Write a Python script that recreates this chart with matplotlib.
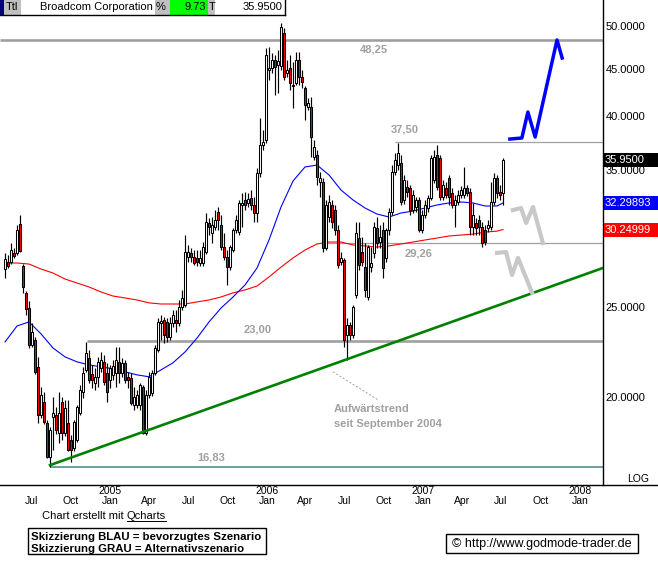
import numpy as np
import pandas as pd
import matplotlib
matplotlib.use('Agg')
import matplotlib.pyplot as plt
import matplotlib.dates as mdates
from matplotlib.patches import Rectangle
from matplotlib.lines import Line2D
from matplotlib.ticker import FixedLocator, NullLocator, FixedFormatter
from matplotlib.transforms import blended_transform_factory

plt.rcParams['font.family'] = ['Liberation Sans', 'DejaVu Sans']

W, H = 658, 563

# weekly candles, Broadcom, from week of 2004-04-26
opens = [27.44, 27.92, 27.92, 28.55, 28.55, 30.67, 27.64, 25.87, 24.92, 22.75,
         23.03, 21.55, 19.15, 19.77, 18.78, 17.27, 19.06, 19.15, 18.32, 19.77,
         18.32, 18.78, 18.01, 17.66, 18.01, 19.25, 20.26, 21.39, 22.04, 21.18,
         20.72, 21.03, 21.50, 21.82, 21.24, 20.87, 21.13, 21.24, 21.82, 21.24,
         21.77, 21.03, 20.98, 19.63, 19.63, 19.63, 20.51, 18.32, 20.12, 20.22,
         21.24, 22.47, 24.02, 24.20, 24.08, 23.20, 24.02, 24.20, 24.02, 24.99,
         25.11, 28.27, 28.55, 28.27, 28.20, 27.85, 27.85, 28.62, 30.74, 29.99,
         30.44, 31.58, 30.59, 28.97, 28.27, 27.57, 28.76, 30.21, 30.06, 32.14,
         32.54, 32.30, 32.70, 32.14, 31.51, 34.78, 37.27, 37.73, 44.85, 45.07,
         45.97, 45.41, 45.30, 49.14, 44.52, 45.07, 43.11, 43.43, 45.97, 44.08,
         42.90, 40.93, 40.93, 36.18, 36.36, 34.01, 34.01, 28.90, 31.20, 32.14,
         31.74, 30.21, 27.92, 28.06, 23.32, 23.90, 23.32, 25.74, 29.62, 28.62,
         27.57, 25.61, 27.57, 28.55, 30.36, 29.33, 30.21, 28.20, 30.21, 31.58,
         34.87, 35.47, 35.65, 32.54, 33.60, 33.51, 31.74, 31.98, 32.54, 30.21,
         31.35, 31.90, 32.70, 34.18, 36.36, 36.09, 32.78, 33.51, 34.35, 33.10,
         32.14, 32.38, 32.94, 32.94, 33.51, 33.18, 30.44, 30.74, 30.97, 30.44,
         30.21, 30.36, 30.44, 32.38, 34.35, 33.18, 33.10]
highs = [28.55, 28.41, 29.26, 28.90, 30.59, 31.35, 27.78, 26.00, 25.36, 24.02,
         23.20, 22.09, 20.51, 20.26, 18.92, 18.60, 20.02, 19.53, 20.26, 20.02,
         19.87, 19.87, 18.23, 18.92, 19.63, 20.62, 21.55, 22.92, 22.47, 21.66,
         21.50, 22.09, 22.36, 22.20, 21.77, 21.66, 21.93, 22.64, 22.64, 22.04,
         21.93, 21.29, 21.24, 20.51, 20.36, 20.72, 20.62, 20.36, 21.29, 21.39,
         22.75, 24.32, 24.50, 24.38, 24.32, 24.38, 24.80, 24.80, 25.42, 26.06,
         29.84, 29.12, 28.90, 28.76, 28.76, 28.76, 29.33, 31.51, 31.12, 31.20,
         31.74, 31.98, 31.35, 29.99, 28.76, 29.12, 30.36, 31.35, 32.54, 33.10,
         33.18, 33.10, 33.35, 32.78, 35.21, 39.84, 38.67, 47.36, 47.47, 46.77,
         46.54, 47.12, 50.37, 49.75, 45.97, 46.54, 45.74, 46.89, 46.89, 44.85,
         43.11, 41.85, 41.95, 37.73, 36.81, 34.87, 34.35, 32.54, 32.94, 32.54,
         32.14, 30.59, 28.62, 28.20, 24.32, 24.08, 25.11, 30.82, 30.82, 29.69,
         29.26, 29.12, 28.97, 30.82, 31.20, 30.59, 30.82, 30.36, 31.90, 35.47,
         36.54, 37.45, 36.36, 34.61, 34.18, 33.76, 33.35, 32.78, 32.78, 31.74,
         32.54, 32.94, 36.36, 36.81, 37.27, 36.36, 34.18, 34.01, 34.61, 33.51,
         32.94, 33.35, 33.68, 35.30, 33.76, 33.51, 32.30, 31.12, 31.35, 30.82,
         30.59, 30.97, 34.01, 34.78, 34.61, 33.76, 36.09]
lows = [26.84, 27.51, 27.78, 28.20, 28.41, 28.62, 25.87, 24.50, 22.58, 22.64,
        21.18, 18.78, 19.01, 18.73, 17.19, 16.83, 17.57, 18.28, 17.88, 18.01,
        18.19, 17.49, 17.06, 17.49, 17.92, 19.15, 19.97, 21.29, 20.72, 20.46,
        20.36, 20.51, 21.29, 20.62, 19.77, 20.46, 20.87, 20.51, 20.72, 21.03,
        20.72, 20.46, 19.63, 19.39, 19.49, 19.39, 18.28, 18.23, 19.97, 20.07,
        21.13, 22.36, 23.03, 22.86, 22.92, 23.03, 23.78, 23.49, 23.84, 24.80,
        24.99, 27.92, 27.92, 27.71, 27.64, 27.64, 27.64, 28.48, 29.84, 29.26,
        30.21, 30.21, 28.76, 28.06, 26.38, 27.37, 28.62, 29.99, 29.84, 30.44,
        31.74, 31.98, 31.74, 30.82, 30.82, 34.44, 36.81, 37.45, 43.75, 44.52,
        42.16, 42.37, 44.85, 43.75, 44.08, 42.69, 40.83, 43.22, 43.22, 42.90,
        39.64, 40.63, 36.18, 35.91, 33.76, 32.78, 28.62, 28.76, 30.82, 30.36,
        29.84, 27.51, 27.71, 22.64, 21.93, 23.03, 23.14, 25.55, 27.37, 27.64,
        25.61, 25.42, 27.24, 28.20, 28.90, 28.90, 26.84, 27.92, 29.84, 31.35,
        34.61, 35.04, 32.14, 32.22, 32.78, 31.35, 31.51, 31.58, 30.06, 29.99,
        31.12, 31.58, 32.54, 33.93, 33.35, 32.54, 32.54, 32.70, 32.14, 31.90,
        30.44, 32.14, 32.70, 32.70, 32.86, 29.84, 29.84, 29.84, 29.84, 28.97,
        29.12, 30.06, 30.21, 32.14, 32.70, 32.54, 32.14]
closes = [28.13, 27.64, 28.76, 28.34, 30.21, 28.69, 26.25, 24.86, 22.75, 23.49,
          21.29, 19.15, 20.12, 18.83, 17.27, 18.46, 19.25, 18.46, 19.25, 18.32,
          19.49, 17.57, 17.57, 18.83, 19.53, 20.36, 21.24, 22.31, 20.87, 20.87,
          21.03, 21.82, 21.93, 20.77, 20.26, 21.50, 21.61, 21.93, 21.24, 21.77,
          20.87, 20.87, 19.73, 20.02, 20.12, 20.62, 18.32, 20.12, 21.03, 21.24,
          22.58, 24.08, 24.14, 23.32, 23.20, 24.02, 24.50, 24.02, 24.99, 25.55,
          28.62, 28.62, 28.27, 27.85, 27.92, 28.20, 28.97, 30.82, 30.44, 30.59,
          30.97, 30.97, 28.97, 28.27, 27.57, 28.97, 30.21, 30.97, 32.30, 32.30,
          32.14, 32.62, 32.14, 31.51, 34.78, 37.27, 37.55, 46.54, 45.07, 45.97,
          45.18, 45.86, 49.88, 44.08, 44.85, 43.43, 43.22, 45.97, 44.08, 43.54,
          41.13, 41.33, 38.01, 37.08, 34.44, 34.35, 28.90, 32.14, 32.38, 30.82,
          30.21, 27.71, 28.20, 23.03, 23.90, 23.32, 24.99, 29.99, 27.71, 27.92,
          26.06, 28.97, 27.85, 30.44, 29.26, 29.69, 27.51, 30.21, 31.58, 34.87,
          35.91, 36.54, 32.38, 34.18, 33.18, 31.74, 32.94, 32.54, 30.21, 31.35,
          32.14, 32.70, 36.09, 36.18, 33.60, 32.78, 33.76, 32.94, 32.78, 32.14,
          32.54, 32.94, 33.35, 33.51, 33.10, 30.44, 31.35, 30.36, 30.44, 29.26,
          29.33, 30.59, 32.38, 34.35, 33.10, 32.94, 35.95]

# moving averages read every 4th week (plus the last week)
ma_idx = list(range(0, 165, 4)) + [166]
blue_ma = [22.92, 23.84, 24.08, 23.38, 22.58, 22.09, 21.82, 21.66, 21.55, 21.45,
           21.29, 21.13, 21.03, 21.39, 21.77, 22.36, 23.14, 24.08, 24.92, 25.61,
           26.38, 27.51, 29.48, 31.98, 34.10, 35.30, 35.47, 34.61, 33.35, 32.54,
           31.90, 31.43, 31.20, 31.51, 31.66, 31.90, 32.14, 32.30, 32.38, 32.30,
           32.06, 32.06, 32.30]
red_ma = [27.85, 27.85, 27.78, 27.44, 27.17, 26.77, 26.51, 26.25, 25.93, 25.67,
          25.55, 25.42, 25.24, 25.17, 25.17, 25.17, 25.30, 25.42, 25.61, 25.87,
          26.06, 26.31, 26.91, 27.57, 28.20, 28.76, 29.19, 29.33, 29.33, 29.12,
          29.05, 28.97, 29.05, 29.19, 29.33, 29.48, 29.62, 29.77, 29.84, 29.91,
          30.06, 30.13, 30.25]

# horizontal levels
levels = [48.25, 37.50, 29.26, 23.00, 16.83]
level_start = ['2004-04-14', '2006-10-23', '2006-05-08', '2004-11-03', '2004-08-09']
level_text = ['48,25', '37,50', '29,26', '23,00', '16,83']

# trend line
trend_dates = ['2004-08-09', '2008-02-20']
trend_vals = [16.91, 27.51]

# scenario sketches
blue_dates = ['2007-07-18', '2007-08-15', '2007-08-29', '2007-09-15', '2007-11-05', '2007-11-17']
blue_vals = [37.82, 37.92, 40.43, 38.01, 48.30, 46.20]
gray1_dates = ['2007-07-25', '2007-08-13', '2007-08-25', '2007-09-10', '2007-10-03']
gray1_vals = [31.74, 31.90, 30.74, 31.98, 29.26]
gray2_dates = ['2007-06-18', '2007-07-09', '2007-07-23', '2007-08-06', '2007-09-08']
gray2_vals = [28.55, 28.62, 27.04, 28.20, 25.87]

last_vals = [35.95, 32.29893, 30.24999]
last_text = ['35.9500', '32.29893', '30.24999']
last_colors = ['black', '#0000ff', '#ff0000']

weeks = pd.date_range('2004-04-26', periods=len(closes), freq='7D')
dn = mdates.date2num(weeks)
o, hi, lo, c = map(np.array, (opens, highs, lows, closes))


def P(x, y):
    return x / W, 1 - y / H


fig = plt.figure(figsize=(W / 100, H / 100), dpi=100)
fig.patch.set_facecolor('white')
ax = fig.add_axes([0, 1 - 485 / H, 603 / W, 485 / H])
ax.set_yscale('log')
ax.set_ylim(16.10, 53.31)
x0 = mdates.date2num(pd.Timestamp('2004-04-26'))
ax.set_xlim(x0 - 11.7, x0 + 1395.3)

for s in ['left', 'top', 'bottom']:
    ax.spines[s].set_visible(False)
ax.spines['right'].set_linewidth(1)

# levels
for lv, st in zip(levels, level_start):
    col, lw = '#a0a0a0', 0.9
    if lv in (48.25, 23.00):
        lw = 1.9
    if lv == 16.83:
        col, lw = '#3f8585', 1.1
    ax.hlines(lv, mdates.date2num(pd.Timestamp(st)), x0 + 1395.3, color=col, lw=lw, zorder=1)

# moving averages
ma_d = dn[ma_idx]
ax.plot(ma_d, red_ma, color='#ff0000', lw=0.8, zorder=2)
ax.plot(ma_d, blue_ma, color='#0000ff', lw=0.8, zorder=2)

# candles
up = c >= o
ax.vlines(dn, lo, hi, color='black', lw=0.85, zorder=3)
ax.bar(dn, np.abs(c - o), bottom=np.minimum(o, c), width=5.2,
       color=np.where(up, 'white', '#ff0000'), edgecolor='black', linewidth=0.75, zorder=4)

# trend line and sketches
ax.plot(pd.to_datetime(trend_dates), trend_vals, color='#008000', lw=1.9, zorder=5)
ax.plot(pd.to_datetime(gray1_dates), gray1_vals, color='#c8c8c8', lw=3, zorder=5)
ax.plot(pd.to_datetime(gray2_dates), gray2_vals, color='#c8c8c8', lw=3, zorder=5)
ax.plot(pd.to_datetime(blue_dates), blue_vals, color='#0000ff', lw=2.5, zorder=5)
ax.plot(pd.to_datetime(['2006-05-31', '2006-09-13']), [21.29, 19.87],
        color='#a0a0a0', lw=0.7, dashes=(2, 2), zorder=5)

# right axis
ax.yaxis.tick_right()
ticks = [20, 25, 35, 40, 45, 50]
ax.yaxis.set_major_locator(FixedLocator(ticks))
ax.yaxis.set_major_formatter(FixedFormatter(['%.4f' % t for t in ticks]))
ax.yaxis.set_minor_locator(NullLocator())
ax.tick_params(axis='y', length=0, pad=2, labelsize=8)

# x labels
ax.xaxis.set_major_locator(NullLocator())
ax.xaxis.set_minor_locator(NullLocator())
bt = blended_transform_factory(ax.transData, ax.transAxes)
months = pd.date_range('2004-07-01', '2008-01-01', freq='QS-JAN')
for m in months:
    ax.text(mdates.date2num(m) - 4, -16 / 485, m.strftime('%b'), transform=bt,
            ha='center', va='center', fontsize=7.5)
    if m.month == 1:
        ax.text(mdates.date2num(m) - 4, -6.5 / 485, str(m.year), transform=bt,
                ha='center', va='center', fontsize=7.5)

# value boxes
fig.canvas.draw()
for v, t, col in zip(last_vals, last_text, last_colors):
    yd = ax.transData.transform((x0, v))[1]
    fig.add_artist(Rectangle((604 / W, (yd - 7) / H), 54 / W, 14 / H,
                             transform=fig.transFigure, facecolor=col, edgecolor='none', zorder=6))
    fig.text(605 / W, yd / H, t, color='white', fontsize=8, va='center', ha='left', zorder=7)

# bottom line and LOG
fig.add_artist(Line2D([0, 1], [1 - 485 / H] * 2, color='black', lw=1))
fig.text(*P(638, 479), 'LOG', fontsize=7.5, ha='center', va='center')

# level labels
lab_pos = [(360, 50), (391, 130), (405, 253), (244, 330), (197, 457)]
for t, (x, y) in zip(level_text, lab_pos):
    fig.text(*P(x, y), t, color='#a0a0a0', fontsize=8, fontweight='bold', va='center')
fig.text(*P(334, 409), 'Aufwärtstrend', color='#a0a0a0', fontsize=8, fontweight='bold', va='center')
fig.text(*P(334, 424), 'seit September 2004', color='#a0a0a0', fontsize=8, fontweight='bold', va='center')

# header strip
cells = [(0, 4, '#000080'), (4, 21, '#c0c0c0'), (21, 155, 'white'), (155, 170, '#c0c0c0'),
         (170, 208, '#00ff00'), (208, 215, '#c0c0c0'), (215, 285, 'white')]
for a, b, col in cells:
    fig.add_artist(Rectangle(P(a, 15), (b - a) / W, 15 / H, transform=fig.transFigure,
                             facecolor=col, edgecolor='none', zorder=6))
fig.add_artist(Line2D([0, 285 / W], [1 - 15 / H] * 2, color='black', lw=1, zorder=7))
fig.add_artist(Line2D([285 / W] * 2, [1, 1 - 15 / H], color='black', lw=1, zorder=7))
hdr = [(6, 'Ttl', 'left'), (153, 'Broadcom Corporation', 'right'), (156, '%', 'left'),
       (206, '9.73', 'right'), (209, 'T', 'left'), (282, '35.9500', 'right')]
for x, t, ha in hdr:
    fig.text(*P(x, 7.5), t, fontsize=8, ha=ha, va='center', zorder=8)

# footer
t1 = fig.text(*P(42, 516), 'Chart erstellt mit ', fontsize=8, va='center')
r = fig.canvas.get_renderer()
bb = t1.get_window_extent(r)
t2 = fig.text(bb.x1 / W, 1 - 516 / H, 'Qcharts', fontsize=8, va='center')
bb2 = t2.get_window_extent(r)
fig.add_artist(Line2D([bb2.x0 / W, bb2.x1 / W], [(bb2.y0 + 0.5) / H] * 2, color='black', lw=0.7))

fig.add_artist(Rectangle(P(28, 554), 238 / W, 26 / H, transform=fig.transFigure,
                         facecolor='white', edgecolor='black', lw=1))
fig.text(*P(31, 537), 'Skizzierung BLAU = bevorzugtes Szenario', fontsize=8.2,
         fontweight='bold', va='center')
fig.text(*P(31, 549), 'Skizzierung GRAU = Alternativszenario', fontsize=8.2,
         fontweight='bold', va='center')

fig.add_artist(Rectangle(P(446, 553), 192 / W, 19 / H, transform=fig.transFigure,
                         facecolor='white', edgecolor='black', lw=1))
fig.text(*P(452, 544), '© http://www.godmode-trader.de', fontsize=9, va='center')

fig.savefig('out.png', dpi=100)
